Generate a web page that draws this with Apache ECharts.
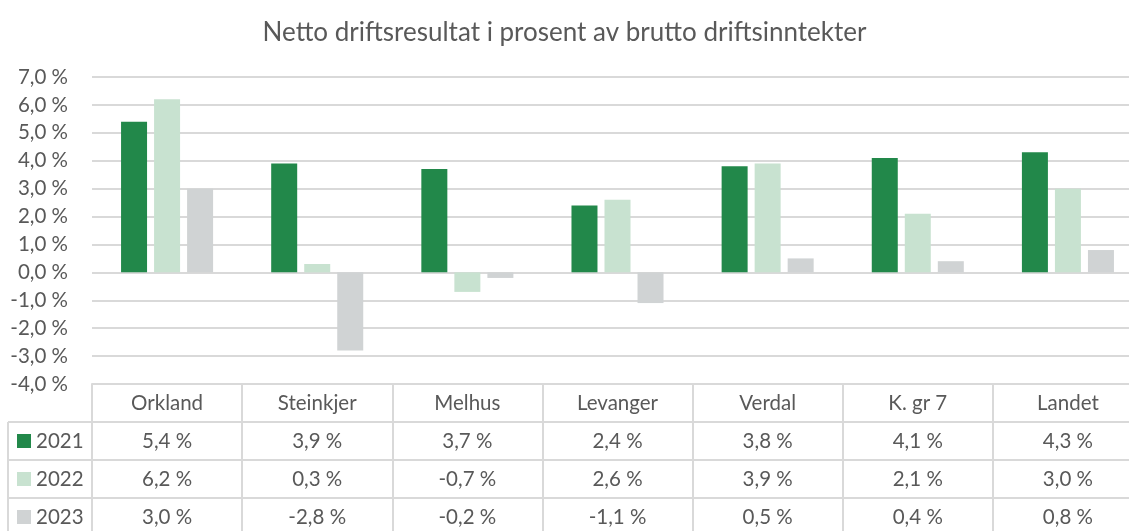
<!DOCTYPE html>
<html>
<head>
<meta charset="utf-8">
<script src="https://cdn.jsdelivr.net/npm/echarts@6/dist/echarts.min.js"></script>
<style>
html,body{margin:0;padding:0;background:#fff;}
#chart{width:1129px;height:531px;}
</style>
</head>
<body>
<div id="chart"></div>
<script>
const title = 'Netto driftsresultat i prosent av brutto driftsinntekter';
const categories = ['Orkland', 'Steinkjer', 'Melhus', 'Levanger', 'Verdal', 'K. gr 7', 'Landet'];
const seriesNames = ['2021', '2022', '2023'];
const values2021 = [5.4, 3.9, 3.7, 2.4, 3.8, 4.1, 4.3];
const values2022 = [6.2, 0.3, -0.7, 2.6, 3.9, 2.1, 3.0];
const values2023 = [3.0, -2.8, -0.2, -1.1, 0.5, 0.4, 0.8];
const colors = ['#22884A', '#C8E2D0', '#D0D3D4'];

const allValues = [values2021, values2022, values2023];
const FONT = 'Lato';
const TXT = '#595959';
const LINE = '#D9D9D9';
const FS = 20.5;

function pct(v) { return v.toFixed(1).replace('.', ',') + ' %'; }

const chart = echarts.init(document.getElementById('chart'));

const gridLeft = 92, gridTop = 77, gridBottom = 147, gridWidth = 1051;
const tableTop = 531 - gridBottom;
const rowH = 38;

const option = {
  backgroundColor: '#fff',
  animation: false,
  textStyle: { fontFamily: FONT },
  title: {
    text: title,
    left: 'center',
    top: 15,
    textStyle: { fontFamily: FONT, fontSize: 26, fontWeight: 'normal', color: TXT }
  },
  legend: {
    orient: 'vertical',
    left: 17,
    top: tableTop + rowH + 19 - 12,
    padding: 0,
    height: 200,
    itemWidth: 14,
    itemHeight: 14,
    itemGap: 14,
    icon: 'rect',
    selectedMode: false,
    textStyle: { fontFamily: FONT, fontSize: FS, lineHeight: 24, color: TXT },
    data: seriesNames
  },
  grid: { left: gridLeft, top: gridTop, bottom: gridBottom, width: gridWidth, containLabel: false, outerBoundsMode: 'none' },
  xAxis: {
    type: 'category',
    data: categories,
    position: 'bottom',
    axisLine: { show: true, onZero: false, lineStyle: { color: LINE, width: 2 } },
    axisTick: { show: true, inside: false, length: 4 * rowH, lineStyle: { color: LINE, width: 2 } },
    axisLabel: {
      interval: 0,
      margin: 0,
      formatter: function (name) {
        const i = categories.indexOf(name);
        return '{h|' + name + '}\n' + allValues.map(a => '{v|' + pct(a[i]) + '}').join('\n');
      },
      rich: {
        h: { fontFamily: FONT, fontSize: FS, color: TXT, lineHeight: rowH, align: 'center' },
        v: { fontFamily: FONT, fontSize: FS, color: TXT, lineHeight: rowH, align: 'center' }
      }
    }
  },
  yAxis: {
    type: 'value',
    min: -4,
    max: 7,
    interval: 1,
    axisLine: { show: false },
    axisTick: { show: false },
    axisLabel: {
      margin: 24,
      fontFamily: FONT,
      fontSize: FS,
      color: TXT,
      formatter: pct
    },
    splitLine: { show: true, lineStyle: { color: LINE, width: 2 } }
  },
  graphic: [
    { type: 'line', shape: { x1: 8, y1: tableTop + rowH, x2: 1129, y2: tableTop + rowH }, style: { stroke: LINE, lineWidth: 2 }, z: 10 },
    { type: 'line', shape: { x1: 8, y1: tableTop + 2 * rowH, x2: 1129, y2: tableTop + 2 * rowH }, style: { stroke: LINE, lineWidth: 2 }, z: 10 },
    { type: 'line', shape: { x1: 8, y1: tableTop + 3 * rowH, x2: 1129, y2: tableTop + 3 * rowH }, style: { stroke: LINE, lineWidth: 2 }, z: 10 },
    { type: 'line', shape: { x1: 8, y1: tableTop + rowH, x2: 8, y2: 531 }, style: { stroke: LINE, lineWidth: 2 }, z: 10 }
  ],
  series: seriesNames.map((n, k) => ({
    name: n,
    type: 'bar',
    data: allValues[k],
    itemStyle: { color: colors[k] },
    barWidth: 26,
    barGap: '27%',
    barCategoryGap: '38%'
  }))
};
chart.setOption(option);
</script>
</body>
</html>
